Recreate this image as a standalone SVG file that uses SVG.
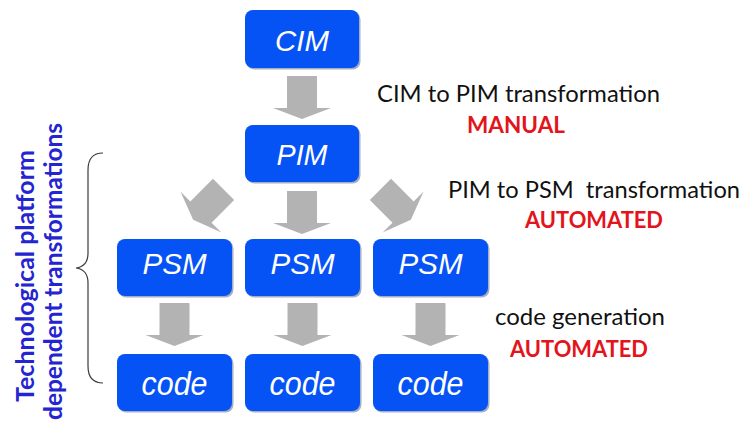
<svg xmlns="http://www.w3.org/2000/svg" width="745" height="423" viewBox="0 0 745 423">
  <style>
    .box { fill: #0552f5; }
    .shadow { fill: #5b6b94; opacity: 0.55; }
    .lbl { font-family: "Liberation Sans", Arial, sans-serif; font-style: italic; fill: #ffffff; text-anchor: middle; }
    .note { font-family: "Lato", "Open Sans", sans-serif; font-size: 23px; fill: #111111; }
    .mode { font-family: "Lato", "Open Sans", sans-serif; font-size: 23px; font-weight: bold; fill: #e3141b; }
    .side { font-family: "Lato", "Open Sans", sans-serif; font-size: 25px; font-weight: bold; fill: #2424d0; text-anchor: middle; }
    .arrow { fill: #b3b3b3; }
    .brace { fill: none; stroke: #3a3a3a; stroke-width: 1.2; }
  </style>
  <defs>
    <!-- block arrow pointing down, centred on its own origin -->
    <path id="down" d="M-15,-22 L15,-22 L15,10 L29,10 L0,21 L-29,10 L-15,10 Z"/>
  </defs>

  <rect width="745" height="423" fill="#ffffff"/>

  <!-- connectors -->
  <g id="connectors" class="arrow">
    <use href="#down" transform="translate(302,98)"/>
    <use href="#down" transform="translate(208,205) rotate(45)"/>
    <use href="#down" transform="translate(302,213)"/>
    <use href="#down" transform="translate(396,205) rotate(-45)"/>
    <use href="#down" transform="translate(174.5,325)"/>
    <use href="#down" transform="translate(302.5,325)"/>
    <use href="#down" transform="translate(430.5,325)"/>
  </g>

  <!-- model nodes -->
  <g id="cim">
    <rect class="shadow" x="246.5" y="11.5" width="114" height="58" rx="8"/>
    <rect class="box" x="245" y="10" width="114" height="58" rx="8"/>
    <text class="lbl" x="302" y="50.5" font-size="30" textLength="54" lengthAdjust="spacingAndGlyphs">CIM</text>
  </g>
  <g id="pim">
    <rect class="shadow" x="246.5" y="126.5" width="114" height="57" rx="8"/>
    <rect class="box" x="245" y="125" width="114" height="57" rx="8"/>
    <text class="lbl" x="302" y="164.5" font-size="30" textLength="51" lengthAdjust="spacingAndGlyphs">PIM</text>
  </g>
  <g id="psm1">
    <rect class="shadow" x="118.5" y="240.5" width="115" height="57" rx="8"/>
    <rect class="box" x="117" y="239" width="115" height="57" rx="8"/>
    <text class="lbl" x="174.5" y="274" font-size="29" textLength="64" lengthAdjust="spacingAndGlyphs">PSM</text>
  </g>
  <g id="psm2">
    <rect class="shadow" x="246.5" y="240.5" width="115" height="57" rx="8"/>
    <rect class="box" x="245" y="239" width="115" height="57" rx="8"/>
    <text class="lbl" x="302.5" y="274" font-size="29" textLength="64" lengthAdjust="spacingAndGlyphs">PSM</text>
  </g>
  <g id="psm3">
    <rect class="shadow" x="374.5" y="240.5" width="115" height="57" rx="8"/>
    <rect class="box" x="373" y="239" width="115" height="57" rx="8"/>
    <text class="lbl" x="430.5" y="274" font-size="29" textLength="64" lengthAdjust="spacingAndGlyphs">PSM</text>
  </g>
  <g id="code1">
    <rect class="shadow" x="118.5" y="355.5" width="115" height="57" rx="8"/>
    <rect class="box" x="117" y="354" width="115" height="57" rx="8"/>
    <text class="lbl" x="174.5" y="395" font-size="34" textLength="66" lengthAdjust="spacingAndGlyphs">code</text>
  </g>
  <g id="code2">
    <rect class="shadow" x="246.5" y="355.5" width="115" height="57" rx="8"/>
    <rect class="box" x="245" y="354" width="115" height="57" rx="8"/>
    <text class="lbl" x="302.5" y="395" font-size="34" textLength="66" lengthAdjust="spacingAndGlyphs">code</text>
  </g>
  <g id="code3">
    <rect class="shadow" x="374.5" y="355.5" width="115" height="57" rx="8"/>
    <rect class="box" x="373" y="354" width="115" height="57" rx="8"/>
    <text class="lbl" x="430.5" y="395" font-size="34" textLength="66" lengthAdjust="spacingAndGlyphs">code</text>
  </g>

  <!-- transformation notes -->
  <g id="notes">
    <text class="note" x="377" y="102" textLength="283" lengthAdjust="spacingAndGlyphs">CIM to PIM transformation</text>
    <text class="mode" x="467" y="133" textLength="98" lengthAdjust="spacingAndGlyphs">MANUAL</text>
    <text class="note" x="448" y="198" textLength="292" lengthAdjust="spacingAndGlyphs" xml:space="preserve">PIM to PSM  transformation</text>
    <text class="mode" x="525" y="228" textLength="138" lengthAdjust="spacingAndGlyphs">AUTOMATED</text>
    <text class="note" x="495" y="325" textLength="170" lengthAdjust="spacingAndGlyphs">code generation</text>
    <text class="mode" x="510" y="357" textLength="138" lengthAdjust="spacingAndGlyphs">AUTOMATED</text>
  </g>

  <!-- platform-dependent span -->
  <g id="platform-brace">
    <path class="brace" d="M103,153 C94,153 88,158 88,170 L88,253 C88,262 84,267 76,268 C84,269 88,274 88,283 L88,366 C88,378 94,383 103,383"/>
    <text class="side" transform="translate(33.5,276) rotate(-90)" textLength="252" lengthAdjust="spacingAndGlyphs">Technological platform</text>
    <text class="side" transform="translate(62,271.5) rotate(-90)" textLength="297" lengthAdjust="spacingAndGlyphs">dependent transformations</text>
  </g>
</svg>
